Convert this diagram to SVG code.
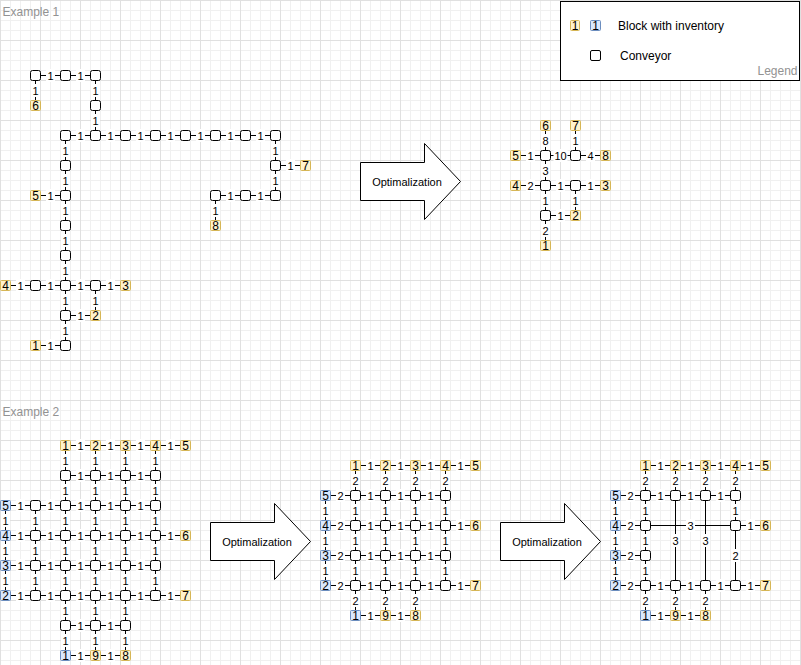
<svg xmlns="http://www.w3.org/2000/svg" width="801" height="665" viewBox="0 0 801 665">
<defs>
<pattern id="grid" width="40" height="40" patternUnits="userSpaceOnUse">
<path d="M10.5 0V40M20.5 0V40M30.5 0V40M0 10.5H40M0 20.5H40M0 30.5H40" stroke="#f0f0f0" stroke-width="1" fill="none"/>
<path d="M0.5 0V40M0 0.5H40" stroke="#e0e0e0" stroke-width="1" fill="none"/>
</pattern>
<style>
.e path{stroke:#000;stroke-width:1;fill:none}
.lb{fill:#fff}
.el{font-family:"Liberation Sans",Arial,Helvetica,sans-serif;font-size:11px;text-anchor:middle;fill:#000}
.n{fill:#fff;stroke:#000;stroke-width:1}
.y{fill:#fff2cc;stroke:#d6b656;stroke-width:1}
.b{fill:#dae8fc;stroke:#6c8ebf;stroke-width:1}
.it{font-family:"Liberation Sans",Arial,Helvetica,sans-serif;font-size:12px;text-anchor:middle;fill:#000}
.ti{font-family:"Liberation Sans",Arial,Helvetica,sans-serif;font-size:12px;fill:#929292}
.ar{fill:#fff;stroke:#000;stroke-width:1}
.at{font-family:"Liberation Sans",Arial,Helvetica,sans-serif;font-size:11px;text-anchor:middle;fill:#000}
.lg{font-family:"Liberation Sans",Arial,Helvetica,sans-serif;font-size:12px;fill:#000}
</style>
</defs>
<rect x="0" y="0" width="801" height="665" fill="#fff"/>
<rect x="0" y="0" width="801" height="665" fill="url(#grid)"/>

<text class="ti" x="2.5" y="15.5">Example 1</text>
<text class="ti" x="2.5" y="416">Example 2</text>

<g id="legend">
<rect x="560.5" y="1.5" width="239" height="79" fill="#fff" stroke="#000" stroke-width="1"/>
<rect class="y" x="570.5" y="20.5" width="9" height="10" rx="1"/><text class="it" x="575" y="30">1</text>
<rect class="b" x="590.5" y="20.5" width="10" height="10" rx="1"/><text class="it" x="595.5" y="30">1</text>
<text class="lg" x="618" y="29.5">Block with inventory</text>
<rect class="n" x="590.5" y="50.5" width="10" height="10" rx="1.5"/>
<text class="lg" x="620" y="59.5">Conveyor</text>
<text class="ti" x="797.5" y="74.5" text-anchor="end">Legend</text>
</g>

<g id="arrow1"><path class="ar" d="M360.5 162.5H424.5V143.5L460.5 181.5L424.5 219.5V200.5H360.5Z"/><text class="at" x="407" y="185.5">Optimalization</text></g>
<g id="arrow2"><path class="ar" d="M210.5 522.5H274.5V503.5L310.5 541.5L274.5 579.5V560.5H210.5Z"/><text class="at" x="257" y="545.5">Optimalization</text></g>
<g id="arrow3"><path class="ar" d="M500.5 522.5H564.5V503.5L600.5 541.5L564.5 579.5V560.5H500.5Z"/><text class="at" x="547" y="545.5">Optimalization</text></g>

<g id="connectors" class="e">
<!-- Example 1 original -->
<path d="M35.5 75.5H65.5"/><path d="M65.5 75.5H95.5"/><path d="M35.5 75.5V105.5"/><path d="M95.5 75.5V105.5"/><path d="M95.5 105.5V135.5"/>
<path d="M65.5 135.5H95.5"/><path d="M95.5 135.5H125.5"/><path d="M125.5 135.5H155.5"/><path d="M155.5 135.5H185.5"/><path d="M185.5 135.5H215.5"/><path d="M215.5 135.5H245.5"/><path d="M245.5 135.5H275.5"/>
<path d="M65.5 135.5V165.5"/><path d="M65.5 165.5V195.5"/><path d="M65.5 195.5V225.5"/><path d="M65.5 225.5V255.5"/><path d="M65.5 255.5V285.5"/><path d="M65.5 285.5V315.5"/><path d="M65.5 315.5V345.5"/>
<path d="M275.5 135.5V165.5"/><path d="M275.5 165.5V195.5"/><path d="M275.5 165.5H305.5"/>
<path d="M35.5 195.5H65.5"/><path d="M215.5 195.5H245.5"/><path d="M245.5 195.5H275.5"/><path d="M215.5 195.5V225.5"/>
<path d="M5.5 285.5H35.5"/><path d="M35.5 285.5H65.5"/><path d="M65.5 285.5H95.5"/><path d="M95.5 285.5H125.5"/><path d="M95.5 285.5V315.5"/><path d="M65.5 315.5H95.5"/><path d="M35.5 345.5H65.5"/>
<!-- Example 1 optimized -->
<path d="M545.5 125.5V155.5"/><path d="M575.5 125.5V155.5"/><path d="M515.5 155.5H545.5"/><path d="M545.5 155.5H575.5"/><path d="M575.5 155.5H605.5"/><path d="M545.5 155.5V185.5"/>
<path d="M515.5 185.5H545.5"/><path d="M545.5 185.5H575.5"/><path d="M575.5 185.5H605.5"/><path d="M545.5 185.5V215.5"/><path d="M575.5 185.5V215.5"/><path d="M545.5 215.5H575.5"/><path d="M545.5 215.5V245.5"/>
<!-- Example 2 original -->
<path d="M65.5 445.5H95.5"/><path d="M95.5 445.5H125.5"/><path d="M125.5 445.5H155.5"/><path d="M155.5 445.5H185.5"/>
<path d="M65.5 475.5H95.5"/><path d="M95.5 475.5H125.5"/><path d="M125.5 475.5H155.5"/>
<path d="M5.5 505.5H35.5"/><path d="M35.5 505.5H65.5"/><path d="M65.5 505.5H95.5"/><path d="M95.5 505.5H125.5"/><path d="M125.5 505.5H155.5"/>
<path d="M5.5 535.5H35.5"/><path d="M35.5 535.5H65.5"/><path d="M65.5 535.5H95.5"/><path d="M95.5 535.5H125.5"/><path d="M125.5 535.5H155.5"/><path d="M155.5 535.5H185.5"/>
<path d="M5.5 565.5H35.5"/><path d="M35.5 565.5H65.5"/><path d="M65.5 565.5H95.5"/><path d="M95.5 565.5H125.5"/><path d="M125.5 565.5H155.5"/>
<path d="M5.5 595.5H35.5"/><path d="M35.5 595.5H65.5"/><path d="M65.5 595.5H95.5"/><path d="M95.5 595.5H125.5"/><path d="M125.5 595.5H155.5"/><path d="M155.5 595.5H185.5"/>
<path d="M65.5 625.5H95.5"/><path d="M95.5 625.5H125.5"/>
<path d="M65.5 655.5H95.5"/><path d="M95.5 655.5H125.5"/>
<path d="M65.5 445.5V475.5"/><path d="M95.5 445.5V475.5"/><path d="M125.5 445.5V475.5"/><path d="M155.5 445.5V475.5"/>
<path d="M65.5 475.5V505.5"/><path d="M95.5 475.5V505.5"/><path d="M125.5 475.5V505.5"/><path d="M155.5 475.5V505.5"/>
<path d="M5.5 505.5V535.5"/><path d="M35.5 505.5V535.5"/><path d="M65.5 505.5V535.5"/><path d="M95.5 505.5V535.5"/><path d="M125.5 505.5V535.5"/><path d="M155.5 505.5V535.5"/>
<path d="M5.5 535.5V565.5"/><path d="M35.5 535.5V565.5"/><path d="M65.5 535.5V565.5"/><path d="M95.5 535.5V565.5"/><path d="M125.5 535.5V565.5"/><path d="M155.5 535.5V565.5"/>
<path d="M5.5 565.5V595.5"/><path d="M35.5 565.5V595.5"/><path d="M65.5 565.5V595.5"/><path d="M95.5 565.5V595.5"/><path d="M125.5 565.5V595.5"/><path d="M155.5 565.5V595.5"/>
<path d="M65.5 595.5V625.5"/><path d="M95.5 595.5V625.5"/><path d="M125.5 595.5V625.5"/>
<path d="M65.5 625.5V655.5"/><path d="M95.5 625.5V655.5"/><path d="M125.5 625.5V655.5"/>
<!-- Example 2 optimized 1 -->
<path d="M355.5 465.5H385.5"/><path d="M385.5 465.5H415.5"/><path d="M415.5 465.5H445.5"/><path d="M445.5 465.5H475.5"/>
<path d="M355.5 465.5V495.5"/><path d="M385.5 465.5V495.5"/><path d="M415.5 465.5V495.5"/><path d="M445.5 465.5V495.5"/>
<path d="M325.5 495.5H355.5"/><path d="M355.5 495.5H385.5"/><path d="M385.5 495.5H415.5"/><path d="M415.5 495.5H445.5"/>
<path d="M325.5 525.5H355.5"/><path d="M355.5 525.5H385.5"/><path d="M385.5 525.5H415.5"/><path d="M415.5 525.5H445.5"/><path d="M445.5 525.5H475.5"/>
<path d="M325.5 555.5H355.5"/><path d="M355.5 555.5H385.5"/><path d="M385.5 555.5H415.5"/><path d="M415.5 555.5H445.5"/>
<path d="M325.5 585.5H355.5"/><path d="M355.5 585.5H385.5"/><path d="M385.5 585.5H415.5"/><path d="M415.5 585.5H445.5"/><path d="M445.5 585.5H475.5"/>
<path d="M325.5 495.5V525.5"/><path d="M355.5 495.5V525.5"/><path d="M385.5 495.5V525.5"/><path d="M415.5 495.5V525.5"/><path d="M445.5 495.5V525.5"/>
<path d="M325.5 525.5V555.5"/><path d="M355.5 525.5V555.5"/><path d="M385.5 525.5V555.5"/><path d="M415.5 525.5V555.5"/><path d="M445.5 525.5V555.5"/>
<path d="M325.5 555.5V585.5"/><path d="M355.5 555.5V585.5"/><path d="M385.5 555.5V585.5"/><path d="M415.5 555.5V585.5"/><path d="M445.5 555.5V585.5"/>
<path d="M355.5 585.5V615.5"/><path d="M385.5 585.5V615.5"/><path d="M415.5 585.5V615.5"/>
<path d="M355.5 615.5H385.5"/><path d="M385.5 615.5H415.5"/>
<!-- Example 2 optimized 2 -->
<path d="M645.5 465.5H675.5"/><path d="M675.5 465.5H705.5"/><path d="M705.5 465.5H735.5"/><path d="M735.5 465.5H765.5"/>
<path d="M645.5 465.5V495.5"/><path d="M675.5 465.5V495.5"/><path d="M705.5 465.5V495.5"/><path d="M735.5 465.5V495.5"/>
<path d="M615.5 495.5H645.5"/><path d="M645.5 495.5H675.5"/><path d="M675.5 495.5H705.5"/><path d="M705.5 495.5H735.5"/>
<path d="M615.5 495.5V525.5"/><path d="M645.5 495.5V525.5"/><path d="M735.5 495.5V525.5"/>
<path d="M675.5 495.5V585.5"/><path d="M705.5 495.5V585.5"/>
<path d="M615.5 525.5H645.5"/><path d="M645.5 525.5H735.5"/><path d="M735.5 525.5H765.5"/>
<path d="M615.5 525.5V555.5"/><path d="M645.5 525.5V555.5"/><path d="M735.5 525.5V585.5"/>
<path d="M615.5 555.5H645.5"/>
<path d="M615.5 555.5V585.5"/><path d="M645.5 555.5V585.5"/>
<path d="M615.5 585.5H645.5"/><path d="M645.5 585.5H675.5"/><path d="M675.5 585.5H705.5"/><path d="M705.5 585.5H735.5"/><path d="M735.5 585.5H765.5"/>
<path d="M645.5 585.5V615.5"/><path d="M675.5 585.5V615.5"/><path d="M705.5 585.5V615.5"/>
<path d="M645.5 615.5H675.5"/><path d="M675.5 615.5H705.5"/>
</g>

<g id="edge-labels">
<!-- Example 1 original -->
<rect class="lb" x="46" y="69" width="9" height="13"/><text class="el" x="50.5" y="79.5">1</text>
<rect class="lb" x="76" y="69" width="9" height="13"/><text class="el" x="80.5" y="79.5">1</text>
<rect class="lb" x="31" y="84" width="9" height="13"/><text class="el" x="35.5" y="94.5">1</text>
<rect class="lb" x="91" y="84" width="9" height="13"/><text class="el" x="95.5" y="94.5">1</text>
<rect class="lb" x="91" y="114" width="9" height="13"/><text class="el" x="95.5" y="124.5">1</text>
<rect class="lb" x="76" y="129" width="9" height="13"/><text class="el" x="80.5" y="139.5">1</text>
<rect class="lb" x="106" y="129" width="9" height="13"/><text class="el" x="110.5" y="139.5">1</text>
<rect class="lb" x="136" y="129" width="9" height="13"/><text class="el" x="140.5" y="139.5">1</text>
<rect class="lb" x="166" y="129" width="9" height="13"/><text class="el" x="170.5" y="139.5">1</text>
<rect class="lb" x="196" y="129" width="9" height="13"/><text class="el" x="200.5" y="139.5">1</text>
<rect class="lb" x="226" y="129" width="9" height="13"/><text class="el" x="230.5" y="139.5">1</text>
<rect class="lb" x="256" y="129" width="9" height="13"/><text class="el" x="260.5" y="139.5">1</text>
<rect class="lb" x="61" y="144" width="9" height="13"/><text class="el" x="65.5" y="154.5">1</text>
<rect class="lb" x="61" y="174" width="9" height="13"/><text class="el" x="65.5" y="184.5">1</text>
<rect class="lb" x="61" y="204" width="9" height="13"/><text class="el" x="65.5" y="214.5">1</text>
<rect class="lb" x="61" y="234" width="9" height="13"/><text class="el" x="65.5" y="244.5">1</text>
<rect class="lb" x="61" y="264" width="9" height="13"/><text class="el" x="65.5" y="274.5">1</text>
<rect class="lb" x="61" y="294" width="9" height="13"/><text class="el" x="65.5" y="304.5">1</text>
<rect class="lb" x="61" y="324" width="9" height="13"/><text class="el" x="65.5" y="334.5">1</text>
<rect class="lb" x="271" y="144" width="9" height="13"/><text class="el" x="275.5" y="154.5">1</text>
<rect class="lb" x="271" y="174" width="9" height="13"/><text class="el" x="275.5" y="184.5">1</text>
<rect class="lb" x="286" y="159" width="9" height="13"/><text class="el" x="290.5" y="169.5">1</text>
<rect class="lb" x="46" y="189" width="9" height="13"/><text class="el" x="50.5" y="199.5">1</text>
<rect class="lb" x="226" y="189" width="9" height="13"/><text class="el" x="230.5" y="199.5">1</text>
<rect class="lb" x="256" y="189" width="9" height="13"/><text class="el" x="260.5" y="199.5">1</text>
<rect class="lb" x="211" y="204" width="9" height="13"/><text class="el" x="215.5" y="214.5">1</text>
<rect class="lb" x="16" y="279" width="9" height="13"/><text class="el" x="20.5" y="289.5">1</text>
<rect class="lb" x="46" y="279" width="9" height="13"/><text class="el" x="50.5" y="289.5">1</text>
<rect class="lb" x="76" y="279" width="9" height="13"/><text class="el" x="80.5" y="289.5">1</text>
<rect class="lb" x="106" y="279" width="9" height="13"/><text class="el" x="110.5" y="289.5">1</text>
<rect class="lb" x="91" y="294" width="9" height="13"/><text class="el" x="95.5" y="304.5">1</text>
<rect class="lb" x="76" y="309" width="9" height="13"/><text class="el" x="80.5" y="319.5">1</text>
<rect class="lb" x="46" y="339" width="9" height="13"/><text class="el" x="50.5" y="349.5">1</text>
<!-- Example 1 optimized -->
<rect class="lb" x="541" y="134" width="9" height="13"/><text class="el" x="545.5" y="144.5">8</text>
<rect class="lb" x="571" y="134" width="9" height="13"/><text class="el" x="575.5" y="144.5">1</text>
<rect class="lb" x="526" y="149" width="9" height="13"/><text class="el" x="530.5" y="159.5">1</text>
<rect class="lb" x="553.5" y="149" width="14" height="13"/><text class="el" x="560.5" y="159.5">10</text>
<rect class="lb" x="586" y="149" width="9" height="13"/><text class="el" x="590.5" y="159.5">4</text>
<rect class="lb" x="541" y="164" width="9" height="13"/><text class="el" x="545.5" y="174.5">3</text>
<rect class="lb" x="526" y="179" width="9" height="13"/><text class="el" x="530.5" y="189.5">2</text>
<rect class="lb" x="556" y="179" width="9" height="13"/><text class="el" x="560.5" y="189.5">1</text>
<rect class="lb" x="586" y="179" width="9" height="13"/><text class="el" x="590.5" y="189.5">1</text>
<rect class="lb" x="541" y="194" width="9" height="13"/><text class="el" x="545.5" y="204.5">1</text>
<rect class="lb" x="571" y="194" width="9" height="13"/><text class="el" x="575.5" y="204.5">1</text>
<rect class="lb" x="556" y="209" width="9" height="13"/><text class="el" x="560.5" y="219.5">1</text>
<rect class="lb" x="541" y="224" width="9" height="13"/><text class="el" x="545.5" y="234.5">2</text>
<!-- Example 2 original: horizontal -->
<rect class="lb" x="76" y="439" width="9" height="13"/><text class="el" x="80.5" y="449.5">1</text>
<rect class="lb" x="106" y="439" width="9" height="13"/><text class="el" x="110.5" y="449.5">1</text>
<rect class="lb" x="136" y="439" width="9" height="13"/><text class="el" x="140.5" y="449.5">1</text>
<rect class="lb" x="166" y="439" width="9" height="13"/><text class="el" x="170.5" y="449.5">1</text>
<rect class="lb" x="76" y="469" width="9" height="13"/><text class="el" x="80.5" y="479.5">1</text>
<rect class="lb" x="106" y="469" width="9" height="13"/><text class="el" x="110.5" y="479.5">1</text>
<rect class="lb" x="136" y="469" width="9" height="13"/><text class="el" x="140.5" y="479.5">1</text>
<rect class="lb" x="16" y="499" width="9" height="13"/><text class="el" x="20.5" y="509.5">1</text>
<rect class="lb" x="46" y="499" width="9" height="13"/><text class="el" x="50.5" y="509.5">1</text>
<rect class="lb" x="76" y="499" width="9" height="13"/><text class="el" x="80.5" y="509.5">1</text>
<rect class="lb" x="106" y="499" width="9" height="13"/><text class="el" x="110.5" y="509.5">1</text>
<rect class="lb" x="136" y="499" width="9" height="13"/><text class="el" x="140.5" y="509.5">1</text>
<rect class="lb" x="16" y="529" width="9" height="13"/><text class="el" x="20.5" y="539.5">1</text>
<rect class="lb" x="46" y="529" width="9" height="13"/><text class="el" x="50.5" y="539.5">1</text>
<rect class="lb" x="76" y="529" width="9" height="13"/><text class="el" x="80.5" y="539.5">1</text>
<rect class="lb" x="106" y="529" width="9" height="13"/><text class="el" x="110.5" y="539.5">1</text>
<rect class="lb" x="136" y="529" width="9" height="13"/><text class="el" x="140.5" y="539.5">1</text>
<rect class="lb" x="166" y="529" width="9" height="13"/><text class="el" x="170.5" y="539.5">1</text>
<rect class="lb" x="16" y="559" width="9" height="13"/><text class="el" x="20.5" y="569.5">1</text>
<rect class="lb" x="46" y="559" width="9" height="13"/><text class="el" x="50.5" y="569.5">1</text>
<rect class="lb" x="76" y="559" width="9" height="13"/><text class="el" x="80.5" y="569.5">1</text>
<rect class="lb" x="106" y="559" width="9" height="13"/><text class="el" x="110.5" y="569.5">1</text>
<rect class="lb" x="136" y="559" width="9" height="13"/><text class="el" x="140.5" y="569.5">1</text>
<rect class="lb" x="16" y="589" width="9" height="13"/><text class="el" x="20.5" y="599.5">1</text>
<rect class="lb" x="46" y="589" width="9" height="13"/><text class="el" x="50.5" y="599.5">1</text>
<rect class="lb" x="76" y="589" width="9" height="13"/><text class="el" x="80.5" y="599.5">1</text>
<rect class="lb" x="106" y="589" width="9" height="13"/><text class="el" x="110.5" y="599.5">1</text>
<rect class="lb" x="136" y="589" width="9" height="13"/><text class="el" x="140.5" y="599.5">1</text>
<rect class="lb" x="166" y="589" width="9" height="13"/><text class="el" x="170.5" y="599.5">1</text>
<rect class="lb" x="76" y="619" width="9" height="13"/><text class="el" x="80.5" y="629.5">1</text>
<rect class="lb" x="106" y="619" width="9" height="13"/><text class="el" x="110.5" y="629.5">1</text>
<rect class="lb" x="76" y="649" width="9" height="13"/><text class="el" x="80.5" y="659.5">1</text>
<rect class="lb" x="106" y="649" width="9" height="13"/><text class="el" x="110.5" y="659.5">1</text>
<!-- Example 2 original: vertical -->
<rect class="lb" x="61" y="454" width="9" height="13"/><text class="el" x="65.5" y="464.5">1</text>
<rect class="lb" x="91" y="454" width="9" height="13"/><text class="el" x="95.5" y="464.5">1</text>
<rect class="lb" x="121" y="454" width="9" height="13"/><text class="el" x="125.5" y="464.5">1</text>
<rect class="lb" x="151" y="454" width="9" height="13"/><text class="el" x="155.5" y="464.5">1</text>
<rect class="lb" x="61" y="484" width="9" height="13"/><text class="el" x="65.5" y="494.5">1</text>
<rect class="lb" x="91" y="484" width="9" height="13"/><text class="el" x="95.5" y="494.5">1</text>
<rect class="lb" x="121" y="484" width="9" height="13"/><text class="el" x="125.5" y="494.5">1</text>
<rect class="lb" x="151" y="484" width="9" height="13"/><text class="el" x="155.5" y="494.5">1</text>
<rect class="lb" x="1" y="514" width="9" height="13"/><text class="el" x="5.5" y="524.5">1</text>
<rect class="lb" x="31" y="514" width="9" height="13"/><text class="el" x="35.5" y="524.5">1</text>
<rect class="lb" x="61" y="514" width="9" height="13"/><text class="el" x="65.5" y="524.5">1</text>
<rect class="lb" x="91" y="514" width="9" height="13"/><text class="el" x="95.5" y="524.5">1</text>
<rect class="lb" x="121" y="514" width="9" height="13"/><text class="el" x="125.5" y="524.5">1</text>
<rect class="lb" x="151" y="514" width="9" height="13"/><text class="el" x="155.5" y="524.5">1</text>
<rect class="lb" x="1" y="544" width="9" height="13"/><text class="el" x="5.5" y="554.5">1</text>
<rect class="lb" x="31" y="544" width="9" height="13"/><text class="el" x="35.5" y="554.5">1</text>
<rect class="lb" x="61" y="544" width="9" height="13"/><text class="el" x="65.5" y="554.5">1</text>
<rect class="lb" x="91" y="544" width="9" height="13"/><text class="el" x="95.5" y="554.5">1</text>
<rect class="lb" x="121" y="544" width="9" height="13"/><text class="el" x="125.5" y="554.5">1</text>
<rect class="lb" x="151" y="544" width="9" height="13"/><text class="el" x="155.5" y="554.5">1</text>
<rect class="lb" x="1" y="574" width="9" height="13"/><text class="el" x="5.5" y="584.5">1</text>
<rect class="lb" x="31" y="574" width="9" height="13"/><text class="el" x="35.5" y="584.5">1</text>
<rect class="lb" x="61" y="574" width="9" height="13"/><text class="el" x="65.5" y="584.5">1</text>
<rect class="lb" x="91" y="574" width="9" height="13"/><text class="el" x="95.5" y="584.5">1</text>
<rect class="lb" x="121" y="574" width="9" height="13"/><text class="el" x="125.5" y="584.5">1</text>
<rect class="lb" x="151" y="574" width="9" height="13"/><text class="el" x="155.5" y="584.5">1</text>
<rect class="lb" x="61" y="604" width="9" height="13"/><text class="el" x="65.5" y="614.5">1</text>
<rect class="lb" x="91" y="604" width="9" height="13"/><text class="el" x="95.5" y="614.5">1</text>
<rect class="lb" x="121" y="604" width="9" height="13"/><text class="el" x="125.5" y="614.5">1</text>
<rect class="lb" x="61" y="634" width="9" height="13"/><text class="el" x="65.5" y="644.5">1</text>
<rect class="lb" x="91" y="634" width="9" height="13"/><text class="el" x="95.5" y="644.5">1</text>
<rect class="lb" x="121" y="634" width="9" height="13"/><text class="el" x="125.5" y="644.5">1</text>
<!-- Example 2 optimized 1 -->
<rect class="lb" x="366" y="459" width="9" height="13"/><text class="el" x="370.5" y="469.5">1</text>
<rect class="lb" x="396" y="459" width="9" height="13"/><text class="el" x="400.5" y="469.5">1</text>
<rect class="lb" x="426" y="459" width="9" height="13"/><text class="el" x="430.5" y="469.5">1</text>
<rect class="lb" x="456" y="459" width="9" height="13"/><text class="el" x="460.5" y="469.5">1</text>
<rect class="lb" x="351" y="474" width="9" height="13"/><text class="el" x="355.5" y="484.5">2</text>
<rect class="lb" x="381" y="474" width="9" height="13"/><text class="el" x="385.5" y="484.5">2</text>
<rect class="lb" x="411" y="474" width="9" height="13"/><text class="el" x="415.5" y="484.5">2</text>
<rect class="lb" x="441" y="474" width="9" height="13"/><text class="el" x="445.5" y="484.5">2</text>
<rect class="lb" x="336" y="489" width="9" height="13"/><text class="el" x="340.5" y="499.5">2</text>
<rect class="lb" x="366" y="489" width="9" height="13"/><text class="el" x="370.5" y="499.5">1</text>
<rect class="lb" x="396" y="489" width="9" height="13"/><text class="el" x="400.5" y="499.5">1</text>
<rect class="lb" x="426" y="489" width="9" height="13"/><text class="el" x="430.5" y="499.5">1</text>
<rect class="lb" x="336" y="519" width="9" height="13"/><text class="el" x="340.5" y="529.5">2</text>
<rect class="lb" x="366" y="519" width="9" height="13"/><text class="el" x="370.5" y="529.5">1</text>
<rect class="lb" x="396" y="519" width="9" height="13"/><text class="el" x="400.5" y="529.5">1</text>
<rect class="lb" x="426" y="519" width="9" height="13"/><text class="el" x="430.5" y="529.5">1</text>
<rect class="lb" x="456" y="519" width="9" height="13"/><text class="el" x="460.5" y="529.5">1</text>
<rect class="lb" x="336" y="549" width="9" height="13"/><text class="el" x="340.5" y="559.5">2</text>
<rect class="lb" x="366" y="549" width="9" height="13"/><text class="el" x="370.5" y="559.5">1</text>
<rect class="lb" x="396" y="549" width="9" height="13"/><text class="el" x="400.5" y="559.5">1</text>
<rect class="lb" x="426" y="549" width="9" height="13"/><text class="el" x="430.5" y="559.5">1</text>
<rect class="lb" x="336" y="579" width="9" height="13"/><text class="el" x="340.5" y="589.5">2</text>
<rect class="lb" x="366" y="579" width="9" height="13"/><text class="el" x="370.5" y="589.5">1</text>
<rect class="lb" x="396" y="579" width="9" height="13"/><text class="el" x="400.5" y="589.5">1</text>
<rect class="lb" x="426" y="579" width="9" height="13"/><text class="el" x="430.5" y="589.5">1</text>
<rect class="lb" x="456" y="579" width="9" height="13"/><text class="el" x="460.5" y="589.5">1</text>
<rect class="lb" x="321" y="504" width="9" height="13"/><text class="el" x="325.5" y="514.5">1</text>
<rect class="lb" x="351" y="504" width="9" height="13"/><text class="el" x="355.5" y="514.5">1</text>
<rect class="lb" x="381" y="504" width="9" height="13"/><text class="el" x="385.5" y="514.5">1</text>
<rect class="lb" x="411" y="504" width="9" height="13"/><text class="el" x="415.5" y="514.5">1</text>
<rect class="lb" x="441" y="504" width="9" height="13"/><text class="el" x="445.5" y="514.5">1</text>
<rect class="lb" x="321" y="534" width="9" height="13"/><text class="el" x="325.5" y="544.5">1</text>
<rect class="lb" x="351" y="534" width="9" height="13"/><text class="el" x="355.5" y="544.5">1</text>
<rect class="lb" x="381" y="534" width="9" height="13"/><text class="el" x="385.5" y="544.5">1</text>
<rect class="lb" x="411" y="534" width="9" height="13"/><text class="el" x="415.5" y="544.5">1</text>
<rect class="lb" x="441" y="534" width="9" height="13"/><text class="el" x="445.5" y="544.5">1</text>
<rect class="lb" x="321" y="564" width="9" height="13"/><text class="el" x="325.5" y="574.5">1</text>
<rect class="lb" x="351" y="564" width="9" height="13"/><text class="el" x="355.5" y="574.5">1</text>
<rect class="lb" x="381" y="564" width="9" height="13"/><text class="el" x="385.5" y="574.5">1</text>
<rect class="lb" x="411" y="564" width="9" height="13"/><text class="el" x="415.5" y="574.5">1</text>
<rect class="lb" x="441" y="564" width="9" height="13"/><text class="el" x="445.5" y="574.5">1</text>
<rect class="lb" x="351" y="594" width="9" height="13"/><text class="el" x="355.5" y="604.5">2</text>
<rect class="lb" x="381" y="594" width="9" height="13"/><text class="el" x="385.5" y="604.5">2</text>
<rect class="lb" x="411" y="594" width="9" height="13"/><text class="el" x="415.5" y="604.5">2</text>
<rect class="lb" x="366" y="609" width="9" height="13"/><text class="el" x="370.5" y="619.5">1</text>
<rect class="lb" x="396" y="609" width="9" height="13"/><text class="el" x="400.5" y="619.5">1</text>
<!-- Example 2 optimized 2 -->
<rect class="lb" x="656" y="459" width="9" height="13"/><text class="el" x="660.5" y="469.5">1</text>
<rect class="lb" x="686" y="459" width="9" height="13"/><text class="el" x="690.5" y="469.5">1</text>
<rect class="lb" x="716" y="459" width="9" height="13"/><text class="el" x="720.5" y="469.5">1</text>
<rect class="lb" x="746" y="459" width="9" height="13"/><text class="el" x="750.5" y="469.5">1</text>
<rect class="lb" x="641" y="474" width="9" height="13"/><text class="el" x="645.5" y="484.5">2</text>
<rect class="lb" x="671" y="474" width="9" height="13"/><text class="el" x="675.5" y="484.5">2</text>
<rect class="lb" x="701" y="474" width="9" height="13"/><text class="el" x="705.5" y="484.5">2</text>
<rect class="lb" x="731" y="474" width="9" height="13"/><text class="el" x="735.5" y="484.5">2</text>
<rect class="lb" x="626" y="489" width="9" height="13"/><text class="el" x="630.5" y="499.5">2</text>
<rect class="lb" x="656" y="489" width="9" height="13"/><text class="el" x="660.5" y="499.5">1</text>
<rect class="lb" x="686" y="489" width="9" height="13"/><text class="el" x="690.5" y="499.5">1</text>
<rect class="lb" x="716" y="489" width="9" height="13"/><text class="el" x="720.5" y="499.5">1</text>
<rect class="lb" x="611" y="504" width="9" height="13"/><text class="el" x="615.5" y="514.5">1</text>
<rect class="lb" x="641" y="504" width="9" height="13"/><text class="el" x="645.5" y="514.5">1</text>
<rect class="lb" x="731" y="504" width="9" height="13"/><text class="el" x="735.5" y="514.5">1</text>
<rect class="lb" x="671" y="534" width="9" height="13"/><text class="el" x="675.5" y="544.5">3</text>
<rect class="lb" x="701" y="534" width="9" height="13"/><text class="el" x="705.5" y="544.5">3</text>
<rect class="lb" x="626" y="519" width="9" height="13"/><text class="el" x="630.5" y="529.5">2</text>
<rect class="lb" x="686" y="519" width="9" height="13"/><text class="el" x="690.5" y="529.5">3</text>
<rect class="lb" x="746" y="519" width="9" height="13"/><text class="el" x="750.5" y="529.5">1</text>
<rect class="lb" x="611" y="534" width="9" height="13"/><text class="el" x="615.5" y="544.5">1</text>
<rect class="lb" x="641" y="534" width="9" height="13"/><text class="el" x="645.5" y="544.5">1</text>
<rect class="lb" x="731" y="549" width="9" height="13"/><text class="el" x="735.5" y="559.5">2</text>
<rect class="lb" x="626" y="549" width="9" height="13"/><text class="el" x="630.5" y="559.5">2</text>
<rect class="lb" x="611" y="564" width="9" height="13"/><text class="el" x="615.5" y="574.5">1</text>
<rect class="lb" x="641" y="564" width="9" height="13"/><text class="el" x="645.5" y="574.5">1</text>
<rect class="lb" x="626" y="579" width="9" height="13"/><text class="el" x="630.5" y="589.5">2</text>
<rect class="lb" x="656" y="579" width="9" height="13"/><text class="el" x="660.5" y="589.5">1</text>
<rect class="lb" x="686" y="579" width="9" height="13"/><text class="el" x="690.5" y="589.5">1</text>
<rect class="lb" x="716" y="579" width="9" height="13"/><text class="el" x="720.5" y="589.5">1</text>
<rect class="lb" x="746" y="579" width="9" height="13"/><text class="el" x="750.5" y="589.5">1</text>
<rect class="lb" x="641" y="594" width="9" height="13"/><text class="el" x="645.5" y="604.5">2</text>
<rect class="lb" x="671" y="594" width="9" height="13"/><text class="el" x="675.5" y="604.5">2</text>
<rect class="lb" x="701" y="594" width="9" height="13"/><text class="el" x="705.5" y="604.5">2</text>
<rect class="lb" x="656" y="609" width="9" height="13"/><text class="el" x="660.5" y="619.5">1</text>
<rect class="lb" x="686" y="609" width="9" height="13"/><text class="el" x="690.5" y="619.5">1</text>
</g>

<!-- Example 1 original nodes -->
<g id="ex1">
<g id="a-c01"><rect class="n" x="30.5" y="70.5" width="10" height="10" rx="2"/></g>
<g id="a-c02"><rect class="n" x="60.5" y="70.5" width="10" height="10" rx="2"/></g>
<g id="a-c03"><rect class="n" x="90.5" y="70.5" width="10" height="10" rx="2"/></g>
<g id="a-c04"><rect class="n" x="90.5" y="100.5" width="10" height="10" rx="2"/></g>
<g id="a-c05"><rect class="n" x="60.5" y="130.5" width="10" height="10" rx="2"/></g>
<g id="a-c06"><rect class="n" x="90.5" y="130.5" width="10" height="10" rx="2"/></g>
<g id="a-c07"><rect class="n" x="120.5" y="130.5" width="10" height="10" rx="2"/></g>
<g id="a-c08"><rect class="n" x="150.5" y="130.5" width="10" height="10" rx="2"/></g>
<g id="a-c09"><rect class="n" x="180.5" y="130.5" width="10" height="10" rx="2"/></g>
<g id="a-c10"><rect class="n" x="210.5" y="130.5" width="10" height="10" rx="2"/></g>
<g id="a-c11"><rect class="n" x="240.5" y="130.5" width="10" height="10" rx="2"/></g>
<g id="a-c12"><rect class="n" x="270.5" y="130.5" width="10" height="10" rx="2"/></g>
<g id="a-c13"><rect class="n" x="60.5" y="160.5" width="10" height="10" rx="2"/></g>
<g id="a-c14"><rect class="n" x="270.5" y="160.5" width="10" height="10" rx="2"/></g>
<g id="a-c15"><rect class="n" x="60.5" y="190.5" width="10" height="10" rx="2"/></g>
<g id="a-c16"><rect class="n" x="210.5" y="190.5" width="10" height="10" rx="2"/></g>
<g id="a-c17"><rect class="n" x="240.5" y="190.5" width="10" height="10" rx="2"/></g>
<g id="a-c18"><rect class="n" x="270.5" y="190.5" width="10" height="10" rx="2"/></g>
<g id="a-c19"><rect class="n" x="60.5" y="220.5" width="10" height="10" rx="2"/></g>
<g id="a-c20"><rect class="n" x="60.5" y="250.5" width="10" height="10" rx="2"/></g>
<g id="a-c21"><rect class="n" x="30.5" y="280.5" width="10" height="10" rx="2"/></g>
<g id="a-c22"><rect class="n" x="60.5" y="280.5" width="10" height="10" rx="2"/></g>
<g id="a-c23"><rect class="n" x="90.5" y="280.5" width="10" height="10" rx="2"/></g>
<g id="a-c24"><rect class="n" x="60.5" y="310.5" width="10" height="10" rx="2"/></g>
<g id="a-c25"><rect class="n" x="60.5" y="340.5" width="10" height="10" rx="2"/></g>
<g id="a-i6"><rect class="y" x="30.5" y="100.5" width="10" height="10" rx="1"/><text class="it" x="35.5" y="110">6</text></g>
<g id="a-i7"><rect class="y" x="300.5" y="160.5" width="10" height="10" rx="1"/><text class="it" x="305.5" y="170">7</text></g>
<g id="a-i5"><rect class="y" x="30.5" y="190.5" width="10" height="10" rx="1"/><text class="it" x="35.5" y="200">5</text></g>
<g id="a-i8"><rect class="y" x="210.5" y="220.5" width="10" height="10" rx="1"/><text class="it" x="215.5" y="230">8</text></g>
<g id="a-i4"><rect class="y" x="0.5" y="280.5" width="10" height="10" rx="1"/><text class="it" x="5.5" y="290">4</text></g>
<g id="a-i3"><rect class="y" x="120.5" y="280.5" width="10" height="10" rx="1"/><text class="it" x="125.5" y="290">3</text></g>
<g id="a-i2"><rect class="y" x="90.5" y="310.5" width="10" height="10" rx="1"/><text class="it" x="95.5" y="320">2</text></g>
<g id="a-i1"><rect class="y" x="30.5" y="340.5" width="10" height="10" rx="1"/><text class="it" x="35.5" y="350">1</text></g>
</g>

<!-- Example 1 optimized nodes -->
<g id="ex1-opt">
<g id="b-c1"><rect class="n" x="540.5" y="150.5" width="10" height="10" rx="2"/></g>
<g id="b-c2"><rect class="n" x="570.5" y="150.5" width="10" height="10" rx="2"/></g>
<g id="b-c3"><rect class="n" x="540.5" y="180.5" width="10" height="10" rx="2"/></g>
<g id="b-c4"><rect class="n" x="570.5" y="180.5" width="10" height="10" rx="2"/></g>
<g id="b-c5"><rect class="n" x="540.5" y="210.5" width="10" height="10" rx="2"/></g>
<g id="b-i6"><rect class="y" x="540.5" y="120.5" width="10" height="10" rx="1"/><text class="it" x="545.5" y="130">6</text></g>
<g id="b-i7"><rect class="y" x="570.5" y="120.5" width="10" height="10" rx="1"/><text class="it" x="575.5" y="130">7</text></g>
<g id="b-i5"><rect class="y" x="510.5" y="150.5" width="10" height="10" rx="1"/><text class="it" x="515.5" y="160">5</text></g>
<g id="b-i8"><rect class="y" x="600.5" y="150.5" width="10" height="10" rx="1"/><text class="it" x="605.5" y="160">8</text></g>
<g id="b-i4"><rect class="y" x="510.5" y="180.5" width="10" height="10" rx="1"/><text class="it" x="515.5" y="190">4</text></g>
<g id="b-i3"><rect class="y" x="600.5" y="180.5" width="10" height="10" rx="1"/><text class="it" x="605.5" y="190">3</text></g>
<g id="b-i2"><rect class="y" x="570.5" y="210.5" width="10" height="10" rx="1"/><text class="it" x="575.5" y="220">2</text></g>
<g id="b-i1"><rect class="y" x="540.5" y="240.5" width="10" height="10" rx="1"/><text class="it" x="545.5" y="250">1</text></g>
</g>

<!-- Example 2 original nodes -->
<g id="ex2">
<g id="c-c01"><rect class="n" x="60.5" y="470.5" width="10" height="10" rx="2"/></g>
<g id="c-c02"><rect class="n" x="90.5" y="470.5" width="10" height="10" rx="2"/></g>
<g id="c-c03"><rect class="n" x="120.5" y="470.5" width="10" height="10" rx="2"/></g>
<g id="c-c04"><rect class="n" x="150.5" y="470.5" width="10" height="10" rx="2"/></g>
<g id="c-c05"><rect class="n" x="30.5" y="500.5" width="10" height="10" rx="2"/></g>
<g id="c-c06"><rect class="n" x="60.5" y="500.5" width="10" height="10" rx="2"/></g>
<g id="c-c07"><rect class="n" x="90.5" y="500.5" width="10" height="10" rx="2"/></g>
<g id="c-c08"><rect class="n" x="120.5" y="500.5" width="10" height="10" rx="2"/></g>
<g id="c-c09"><rect class="n" x="150.5" y="500.5" width="10" height="10" rx="2"/></g>
<g id="c-c10"><rect class="n" x="30.5" y="530.5" width="10" height="10" rx="2"/></g>
<g id="c-c11"><rect class="n" x="60.5" y="530.5" width="10" height="10" rx="2"/></g>
<g id="c-c12"><rect class="n" x="90.5" y="530.5" width="10" height="10" rx="2"/></g>
<g id="c-c13"><rect class="n" x="120.5" y="530.5" width="10" height="10" rx="2"/></g>
<g id="c-c14"><rect class="n" x="150.5" y="530.5" width="10" height="10" rx="2"/></g>
<g id="c-c15"><rect class="n" x="30.5" y="560.5" width="10" height="10" rx="2"/></g>
<g id="c-c16"><rect class="n" x="60.5" y="560.5" width="10" height="10" rx="2"/></g>
<g id="c-c17"><rect class="n" x="90.5" y="560.5" width="10" height="10" rx="2"/></g>
<g id="c-c18"><rect class="n" x="120.5" y="560.5" width="10" height="10" rx="2"/></g>
<g id="c-c19"><rect class="n" x="150.5" y="560.5" width="10" height="10" rx="2"/></g>
<g id="c-c20"><rect class="n" x="30.5" y="590.5" width="10" height="10" rx="2"/></g>
<g id="c-c21"><rect class="n" x="60.5" y="590.5" width="10" height="10" rx="2"/></g>
<g id="c-c22"><rect class="n" x="90.5" y="590.5" width="10" height="10" rx="2"/></g>
<g id="c-c23"><rect class="n" x="120.5" y="590.5" width="10" height="10" rx="2"/></g>
<g id="c-c24"><rect class="n" x="150.5" y="590.5" width="10" height="10" rx="2"/></g>
<g id="c-c25"><rect class="n" x="60.5" y="620.5" width="10" height="10" rx="2"/></g>
<g id="c-c26"><rect class="n" x="90.5" y="620.5" width="10" height="10" rx="2"/></g>
<g id="c-c27"><rect class="n" x="120.5" y="620.5" width="10" height="10" rx="2"/></g>
<g id="c-y1"><rect class="y" x="60.5" y="440.5" width="10" height="10" rx="1"/><text class="it" x="65.5" y="450">1</text></g>
<g id="c-y2"><rect class="y" x="90.5" y="440.5" width="10" height="10" rx="1"/><text class="it" x="95.5" y="450">2</text></g>
<g id="c-y3"><rect class="y" x="120.5" y="440.5" width="10" height="10" rx="1"/><text class="it" x="125.5" y="450">3</text></g>
<g id="c-y4"><rect class="y" x="150.5" y="440.5" width="10" height="10" rx="1"/><text class="it" x="155.5" y="450">4</text></g>
<g id="c-y5"><rect class="y" x="180.5" y="440.5" width="10" height="10" rx="1"/><text class="it" x="185.5" y="450">5</text></g>
<g id="c-y6"><rect class="y" x="180.5" y="530.5" width="10" height="10" rx="1"/><text class="it" x="185.5" y="540">6</text></g>
<g id="c-y7"><rect class="y" x="180.5" y="590.5" width="10" height="10" rx="1"/><text class="it" x="185.5" y="600">7</text></g>
<g id="c-y9"><rect class="y" x="90.5" y="650.5" width="10" height="10" rx="1"/><text class="it" x="95.5" y="660">9</text></g>
<g id="c-y8"><rect class="y" x="120.5" y="650.5" width="10" height="10" rx="1"/><text class="it" x="125.5" y="660">8</text></g>
<g id="c-b5"><rect class="b" x="0.5" y="500.5" width="10" height="10" rx="1"/><text class="it" x="5.5" y="510">5</text></g>
<g id="c-b4"><rect class="b" x="0.5" y="530.5" width="10" height="10" rx="1"/><text class="it" x="5.5" y="540">4</text></g>
<g id="c-b3"><rect class="b" x="0.5" y="560.5" width="10" height="10" rx="1"/><text class="it" x="5.5" y="570">3</text></g>
<g id="c-b2"><rect class="b" x="0.5" y="590.5" width="10" height="10" rx="1"/><text class="it" x="5.5" y="600">2</text></g>
<g id="c-b1"><rect class="b" x="60.5" y="650.5" width="10" height="10" rx="1"/><text class="it" x="65.5" y="660">1</text></g>
</g>

<!-- Example 2 optimized 1 nodes -->
<g id="ex2-opt1">
<g id="d-c01"><rect class="n" x="350.5" y="490.5" width="10" height="10" rx="2"/></g>
<g id="d-c02"><rect class="n" x="380.5" y="490.5" width="10" height="10" rx="2"/></g>
<g id="d-c03"><rect class="n" x="410.5" y="490.5" width="10" height="10" rx="2"/></g>
<g id="d-c04"><rect class="n" x="440.5" y="490.5" width="10" height="10" rx="2"/></g>
<g id="d-c05"><rect class="n" x="350.5" y="520.5" width="10" height="10" rx="2"/></g>
<g id="d-c06"><rect class="n" x="380.5" y="520.5" width="10" height="10" rx="2"/></g>
<g id="d-c07"><rect class="n" x="410.5" y="520.5" width="10" height="10" rx="2"/></g>
<g id="d-c08"><rect class="n" x="440.5" y="520.5" width="10" height="10" rx="2"/></g>
<g id="d-c09"><rect class="n" x="350.5" y="550.5" width="10" height="10" rx="2"/></g>
<g id="d-c10"><rect class="n" x="380.5" y="550.5" width="10" height="10" rx="2"/></g>
<g id="d-c11"><rect class="n" x="410.5" y="550.5" width="10" height="10" rx="2"/></g>
<g id="d-c12"><rect class="n" x="440.5" y="550.5" width="10" height="10" rx="2"/></g>
<g id="d-c13"><rect class="n" x="350.5" y="580.5" width="10" height="10" rx="2"/></g>
<g id="d-c14"><rect class="n" x="380.5" y="580.5" width="10" height="10" rx="2"/></g>
<g id="d-c15"><rect class="n" x="410.5" y="580.5" width="10" height="10" rx="2"/></g>
<g id="d-c16"><rect class="n" x="440.5" y="580.5" width="10" height="10" rx="2"/></g>
<g id="d-y1"><rect class="y" x="350.5" y="460.5" width="10" height="10" rx="1"/><text class="it" x="355.5" y="470">1</text></g>
<g id="d-y2"><rect class="y" x="380.5" y="460.5" width="10" height="10" rx="1"/><text class="it" x="385.5" y="470">2</text></g>
<g id="d-y3"><rect class="y" x="410.5" y="460.5" width="10" height="10" rx="1"/><text class="it" x="415.5" y="470">3</text></g>
<g id="d-y4"><rect class="y" x="440.5" y="460.5" width="10" height="10" rx="1"/><text class="it" x="445.5" y="470">4</text></g>
<g id="d-y5"><rect class="y" x="470.5" y="460.5" width="10" height="10" rx="1"/><text class="it" x="475.5" y="470">5</text></g>
<g id="d-y6"><rect class="y" x="470.5" y="520.5" width="10" height="10" rx="1"/><text class="it" x="475.5" y="530">6</text></g>
<g id="d-y7"><rect class="y" x="470.5" y="580.5" width="10" height="10" rx="1"/><text class="it" x="475.5" y="590">7</text></g>
<g id="d-y9"><rect class="y" x="380.5" y="610.5" width="10" height="10" rx="1"/><text class="it" x="385.5" y="620">9</text></g>
<g id="d-y8"><rect class="y" x="410.5" y="610.5" width="10" height="10" rx="1"/><text class="it" x="415.5" y="620">8</text></g>
<g id="d-b5"><rect class="b" x="320.5" y="490.5" width="10" height="10" rx="1"/><text class="it" x="325.5" y="500">5</text></g>
<g id="d-b4"><rect class="b" x="320.5" y="520.5" width="10" height="10" rx="1"/><text class="it" x="325.5" y="530">4</text></g>
<g id="d-b3"><rect class="b" x="320.5" y="550.5" width="10" height="10" rx="1"/><text class="it" x="325.5" y="560">3</text></g>
<g id="d-b2"><rect class="b" x="320.5" y="580.5" width="10" height="10" rx="1"/><text class="it" x="325.5" y="590">2</text></g>
<g id="d-b1"><rect class="b" x="350.5" y="610.5" width="10" height="10" rx="1"/><text class="it" x="355.5" y="620">1</text></g>
</g>

<!-- Example 2 optimized 2 nodes -->
<g id="ex2-opt2">
<g id="e-c01"><rect class="n" x="640.5" y="490.5" width="10" height="10" rx="2"/></g>
<g id="e-c02"><rect class="n" x="670.5" y="490.5" width="10" height="10" rx="2"/></g>
<g id="e-c03"><rect class="n" x="700.5" y="490.5" width="10" height="10" rx="2"/></g>
<g id="e-c04"><rect class="n" x="730.5" y="490.5" width="10" height="10" rx="2"/></g>
<g id="e-c05"><rect class="n" x="640.5" y="520.5" width="10" height="10" rx="2"/></g>
<g id="e-c06"><rect class="n" x="730.5" y="520.5" width="10" height="10" rx="2"/></g>
<g id="e-c07"><rect class="n" x="640.5" y="550.5" width="10" height="10" rx="2"/></g>
<g id="e-c08"><rect class="n" x="640.5" y="580.5" width="10" height="10" rx="2"/></g>
<g id="e-c09"><rect class="n" x="670.5" y="580.5" width="10" height="10" rx="2"/></g>
<g id="e-c10"><rect class="n" x="700.5" y="580.5" width="10" height="10" rx="2"/></g>
<g id="e-c11"><rect class="n" x="730.5" y="580.5" width="10" height="10" rx="2"/></g>
<g id="e-y1"><rect class="y" x="640.5" y="460.5" width="10" height="10" rx="1"/><text class="it" x="645.5" y="470">1</text></g>
<g id="e-y2"><rect class="y" x="670.5" y="460.5" width="10" height="10" rx="1"/><text class="it" x="675.5" y="470">2</text></g>
<g id="e-y3"><rect class="y" x="700.5" y="460.5" width="10" height="10" rx="1"/><text class="it" x="705.5" y="470">3</text></g>
<g id="e-y4"><rect class="y" x="730.5" y="460.5" width="10" height="10" rx="1"/><text class="it" x="735.5" y="470">4</text></g>
<g id="e-y5"><rect class="y" x="760.5" y="460.5" width="10" height="10" rx="1"/><text class="it" x="765.5" y="470">5</text></g>
<g id="e-y6"><rect class="y" x="760.5" y="520.5" width="10" height="10" rx="1"/><text class="it" x="765.5" y="530">6</text></g>
<g id="e-y7"><rect class="y" x="760.5" y="580.5" width="10" height="10" rx="1"/><text class="it" x="765.5" y="590">7</text></g>
<g id="e-y9"><rect class="y" x="670.5" y="610.5" width="10" height="10" rx="1"/><text class="it" x="675.5" y="620">9</text></g>
<g id="e-y8"><rect class="y" x="700.5" y="610.5" width="10" height="10" rx="1"/><text class="it" x="705.5" y="620">8</text></g>
<g id="e-b5"><rect class="b" x="610.5" y="490.5" width="10" height="10" rx="1"/><text class="it" x="615.5" y="500">5</text></g>
<g id="e-b4"><rect class="b" x="610.5" y="520.5" width="10" height="10" rx="1"/><text class="it" x="615.5" y="530">4</text></g>
<g id="e-b3"><rect class="b" x="610.5" y="550.5" width="10" height="10" rx="1"/><text class="it" x="615.5" y="560">3</text></g>
<g id="e-b2"><rect class="b" x="610.5" y="580.5" width="10" height="10" rx="1"/><text class="it" x="615.5" y="590">2</text></g>
<g id="e-b1"><rect class="b" x="640.5" y="610.5" width="10" height="10" rx="1"/><text class="it" x="645.5" y="620">1</text></g>
</g>
</svg>
